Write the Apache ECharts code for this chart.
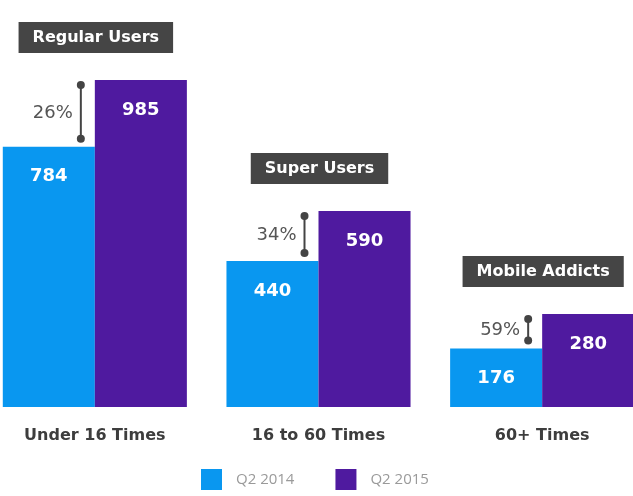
<!DOCTYPE html>
<html>
<head>
<meta charset="utf-8">
<script src="https://cdn.jsdelivr.net/npm/echarts@6/dist/echarts.min.js"></script>
<style>
  html, body { margin: 0; padding: 0; background: #fff; }
  #main { width: 633px; height: 496px; }
</style>
</head>
<body>
<div id="main"></div>
<script>
// 数据
const categories = ['Under 16 Times', '16 to 60 Times', '60+ Times']
const q2014 = [784, 440, 176]
const q2015 = [985, 590, 280]
const groupNames = ['Regular Users', 'Super Users', 'Mobile Addicts']
const growth = ['26%', '34%', '59%']

const blue = '#0997f0'
const purple = '#4f1a9f'
const font = '"DejaVu Sans", sans-serif'
const legendFont = '"Open Sans", sans-serif'

let myChart = echarts.init(document.getElementById('main'))

// 注释：标题框 + 增长括号
const renderNote = (params, api) => {
  let i = api.value(0)
  let low = api.coord([i, api.value(1)])
  let high = api.coord([i, api.value(2)])
  let cx = low[0]
  let bx = cx - 14
  let y1 = high[1] + 5
  let y2 = low[1] - 8
  return {
    type: 'group',
    children: [
      {
        type: 'text',
        x: cx + 1,
        y: high[1] - 27,
        style: {
          text: groupNames[i],
          align: 'center',
          verticalAlign: 'bottom',
          fill: '#fff',
          font: 'bold 16px ' + font,
          backgroundColor: '#454545',
          padding: [8, 14, 7, 14]
        }
      },
      {
        type: 'line',
        shape: {x1: bx, y1: y1, x2: bx, y2: y2},
        style: {stroke: '#444', lineWidth: 2}
      },
      {type: 'circle', shape: {cx: bx, cy: y1, r: 4}, style: {fill: '#444'}},
      {type: 'circle', shape: {cx: bx, cy: y2, r: 4}, style: {fill: '#444'}},
      {
        type: 'text',
        x: bx - 8,
        y: (y1 + y2) / 2 + 1,
        style: {
          text: growth[i],
          align: 'right',
          verticalAlign: 'middle',
          fill: '#555',
          font: '18px ' + font
        }
      }
    ]
  }
}

let option = {
  animation: false,
  grid: {left: -17, right: -21, top: 75, bottom: 89, outerBoundsMode: 'none'},
  legend: {
    data: ['Q2 2014', 'Q2 2015'],
    left: 196,
    top: 464,
    icon: 'rect',
    itemWidth: 21,
    itemHeight: 21,
    itemGap: 41,
    textStyle: {color: '#9a9a9a', fontSize: 15, fontFamily: legendFont, padding: [0, 0, 0, 9]}
  },
  xAxis: {
    type: 'category',
    data: categories,
    axisLine: {show: false},
    axisTick: {show: false},
    axisLabel: {margin: 21, color: '#3d3d3d', fontSize: 16, fontWeight: 'bold', fontFamily: font}
  },
  yAxis: {type: 'value', min: 0, max: 1000, show: false},
  series: [
    {
      name: 'Q2 2014',
      type: 'bar',
      data: q2014,
      barGap: '0%',
      barCategoryGap: '17.7%',
      itemStyle: {color: blue},
      label: {show: true, position: 'insideTop', distance: 21, color: '#fff', fontSize: 18, fontWeight: 'bold', fontFamily: font}
    },
    {
      name: 'Q2 2015',
      type: 'bar',
      data: q2015,
      itemStyle: {color: purple},
      label: {show: true, position: 'insideTop', distance: 21, color: '#fff', fontSize: 18, fontWeight: 'bold', fontFamily: font}
    },
    {
      type: 'custom',
      clip: false,
      silent: true,
      z: 5,
      encode: {x: 0, y: [1, 2]},
      data: categories.map((c, i) => [i, q2014[i], q2015[i]]),
      renderItem: renderNote
    }
  ]
}
myChart.setOption(option, true)
</script>
</body>
</html>
